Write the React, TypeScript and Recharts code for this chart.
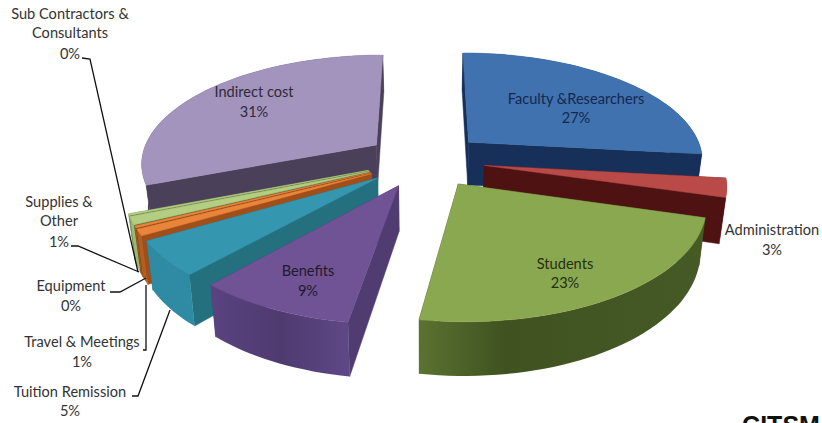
import React from "react";
import { PieChart, Pie } from "recharts";

const names = [
  "Indirect cost",
  "Sub Contractors & Consultants",
  "Supplies & Other",
  "Equipment",
  "Travel & Meetings",
  "Tuition Remission",
  "Benefits",
  "Students",
  "Administration",
  "Faculty &Researchers",
];
// slice sizes as drawn (the two "0%" slices are thin but not empty)
const values = [31, 0.2, 1.1, 0.3, 0.9, 5, 9, 23, 2.7, 26.8];
const percentLabels = ["31%", "0%", "1%", "0%", "1%", "5%", "9%", "23%", "3%", "27%"];
const data = names.map((name, i) => ({ name, value: values[i] }));

const topColors = ["#a294bd", "#b3cd82", "#b3cd82", "#e8853a", "#e8853a", "#3596b0", "#6f5395", "#8aa84f", "#b94a48", "#3f72af"];
const cutColors = ["#4b4059", "#6b7f48", "#6b7f48", "#7d3a14", "#a04f1a", "#25707f", "#503c70", "#3f5220", "#4f1213", "#16305a"];
const rimColors = ["#4b4059", "#9db872", "#9db872", "#a85a20", "#b05e22", "#2f8ba3", "url(#rim-benefits)", "url(#rim-students)", "#4f1213", "#16305a"];

// paint order, back to front
const layers = [
  ["Indirect cost", "Faculty &Researchers"],
  ["Administration"],
  ["Sub Contractors & Consultants", "Supplies & Other", "Equipment", "Travel & Meetings", "Tuition Remission", "Benefits", "Students"],
];

// text lines above the percent, the y of every line (percent last), leader line
const labelLayout: Record<string, { x: number; lines: string[]; ys: number[]; color: string; leader?: string }> = {
  "Indirect cost": { x: 254, lines: ["Indirect cost"], ys: [92, 112], color: "#2e2a3a" },
  "Sub Contractors & Consultants": {
    x: 70,
    lines: ["Sub Contractors &", "Consultants"],
    ys: [14, 33, 54],
    color: "#333",
    leader: "82,58 90,59 138,272",
  },
  "Supplies & Other": {
    x: 59,
    lines: ["Supplies &", "Other"],
    ys: [202, 221, 242],
    color: "#333",
    leader: "71,246 78,246 139,272",
  },
  Equipment: { x: 71, lines: ["Equipment"], ys: [286, 306], color: "#333", leader: "110,292 120,292 146,278" },
  "Travel & Meetings": { x: 82, lines: ["Travel & Meetings"], ys: [342, 362], color: "#333", leader: "143,350 146,350 146,285" },
  "Tuition Remission": { x: 70, lines: ["Tuition Remission"], ys: [392, 411], color: "#333", leader: "132,396 138,396 170,310" },
  Benefits: { x: 308, lines: ["Benefits"], ys: [271, 291], color: "#1f1a2e" },
  Students: { x: 565, lines: ["Students"], ys: [264, 283], color: "#232f12" },
  Administration: { x: 772, lines: ["Administration"], ys: [230, 250], color: "#333" },
  "Faculty &Researchers": { x: 576, lines: ["Faculty &Researchers"], ys: [99, 118], color: "#14284f" },
};

const CX = 425;
const CY = 160;
const RADIUS = 236;
const EXPLODE = 60;
const SQUASH = 0.458;
const PERSPECTIVE = 0.155;
const DEPTH = 44;
const TAPER = 0.0005; // walls lean slightly towards the middle

const rad = (d: number) => (d * Math.PI) / 180;

const project = (u: number, v: number, z: number) => {
  const w = 1 + (PERSPECTIVE * v) / RADIUS;
  return [CX + (u / w) * (1 - TAPER * z), CY - (v * SQUASH) / w + z / w];
};

const toPath = (pts: number[][]) =>
  "M" + pts.map((p) => `${p[0].toFixed(1)},${p[1].toFixed(1)}`).join("L") + "Z";

const Slice3D = (layer: string[]) => (props: any) => {
  const { name, startAngle, endAngle, outerRadius } = props;
  if (!layer.includes(name)) return <g />;
  const i = names.indexOf(name);
  const mid = rad((startAngle + endAngle) / 2);
  const ou = EXPLODE * Math.cos(mid);
  const ov = EXPLODE * Math.sin(mid);
  const arcAngles: number[] = [];
  const steps = Math.max(2, Math.ceil((endAngle - startAngle) / 2));
  for (let s = 0; s <= steps; s++) arcAngles.push(startAngle + ((endAngle - startAngle) * s) / steps);
  const arc = (z: number) =>
    arcAngles.map((a) => project(ou + outerRadius * Math.cos(rad(a)), ov + outerRadius * Math.sin(rad(a)), z));
  const apex = (z: number) => project(ou, ov, z);
  const top = arc(0);
  const bottom = arc(DEPTH);
  return (
    <g>
      <path d={toPath([apex(0), top[0], bottom[0], apex(DEPTH)])} fill={cutColors[i]} stroke={cutColors[i]} strokeWidth={0.5} />
      <path
        d={toPath([apex(0), top[top.length - 1], bottom[bottom.length - 1], apex(DEPTH)])}
        fill={cutColors[i]}
        stroke={cutColors[i]}
        strokeWidth={0.5}
      />
      <path d={toPath([...top, ...[...bottom].reverse()])} fill={rimColors[i]} />
      <path d={toPath([apex(0), ...top])} fill={topColors[i]} stroke={topColors[i]} strokeWidth={0.5} />
    </g>
  );
};

const renderLabel = (props: any) => {
  const l = labelLayout[props.name];
  const texts = [...l.lines, percentLabels[names.indexOf(props.name)]];
  return (
    <g key={props.name}>
      {l.leader && <polyline points={l.leader} fill="none" stroke="#111" strokeWidth={1.3} />}
      {texts.map((t, k) => (
        <text key={k} x={l.x} y={l.ys[k]} dy={5} textAnchor="middle" fontSize={14.6} fontFamily="Lato, 'Open Sans', sans-serif" fill={l.color}>
          {t}
        </text>
      ))}
    </g>
  );
};

export default function App() {
  return (
    <div style={{ position: "absolute", left: 0, top: 0, width: 822, height: 423, overflow: "hidden", background: "#fff" }}>
      <PieChart width={822} height={423} margin={{ top: 0, right: 0, bottom: 0, left: 0 }}>
        <defs>
          <linearGradient id="rim-students" x1="0" y1="0" x2="1" y2="0">
            <stop offset="0" stopColor="#5b7231" />
            <stop offset="0.3" stopColor="#3f5220" />
            <stop offset="1" stopColor="#465a26" />
          </linearGradient>
          <linearGradient id="rim-benefits" x1="0" y1="0" x2="1" y2="0">
            <stop offset="0" stopColor="#5a4380" />
            <stop offset="0.5" stopColor="#4f3a70" />
            <stop offset="1" stopColor="#5f4886" />
          </linearGradient>
        </defs>
        {layers.map((layer, li) => (
          <Pie
            key={li}
            data={data}
            dataKey="value"
            nameKey="name"
            cx={CX}
            cy={CY}
            innerRadius={0}
            outerRadius={RADIUS}
            startAngle={90}
            endAngle={450}
            stroke="none"
            isAnimationActive={false}
            shape={Slice3D(layer)}
            labelLine={false}
            label={li === layers.length - 1 ? renderLabel : false}
          />
        ))}
        <text x={781} y={434} textAnchor="middle" fontSize={25} fontWeight={700} fontFamily="'Liberation Sans', Arial, sans-serif" fill="#111">
          CITSM
        </text>
      </PieChart>
    </div>
  );
}
